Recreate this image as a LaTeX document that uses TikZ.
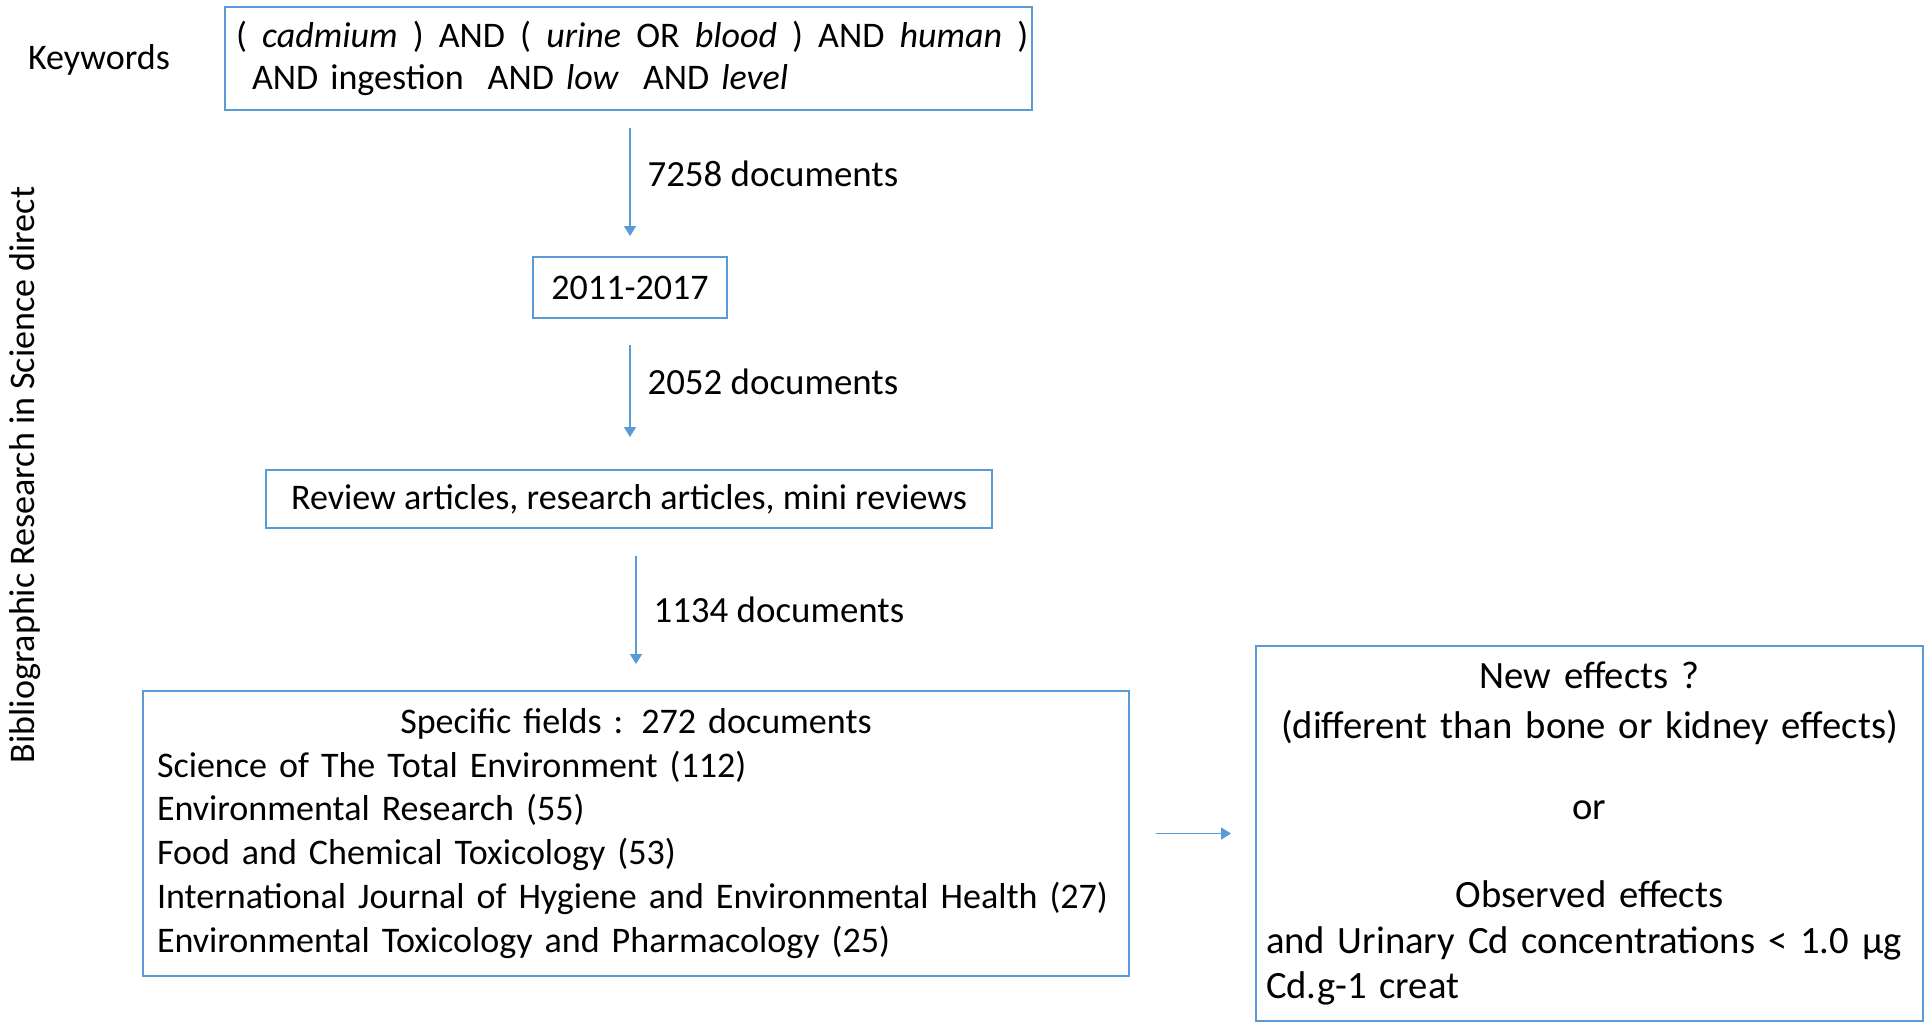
\documentclass[tikz,border=0pt]{standalone}
\usepackage{fontspec}
\setmainfont{Carlito}
\usetikzlibrary{arrows.meta}
\setlength\parindent{0pt}
\definecolor{boxline}{HTML}{5B9BD5}
\tikzset{box/.style={black,draw=boxline,line width=1.1pt,rectangle,font=\fontsize{20.5}{24.5}\selectfont}}
\tikzset{plain/.style={black,font=\fontsize{20.5}{24}\selectfont}}
\tikzset{count/.style={black,font=\fontsize{21}{24}\selectfont,right=0.22cm}}
\tikzset{flow/.style={draw=boxline,line width=0.8pt,-{Triangle[width=0.24cm,length=0.2cm]}}}

\begin{document}
\begin{tikzpicture}
\useasboundingbox (0,0) rectangle (38.5,-20.48);

\node[plain] (keywords) at (1.98,-1.2) {Keywords};
\node[plain,rotate=90] (biblio) at (0.5,-9.5) {Bibliographic Research in Science direct};

\node[box,minimum width=16.14cm,minimum height=2.06cm,text width=15.7cm,inner xsep=0.22cm,align=left,
      font=\fontsize{20.5}{24}\selectfont] (query) at (12.57,-1.17)
  {{\spaceskip=0.42em\mbox{( \textit{cadmium} ) AND ( \textit{urine} OR \textit{blood} ) AND \textit{human} )}}\\
   \hspace*{0.32cm}AND ingestion~ AND \textit{low}~ AND \textit{level}};
\node[box,minimum width=3.88cm,minimum height=1.22cm] (years) at (12.6,-5.75) {2011-2017};
\node[box,minimum width=14.52cm,minimum height=1.16cm] (types) at (12.58,-9.98) {Review articles, research articles, mini reviews};
\node[box,minimum width=19.72cm,minimum height=5.7cm,text width=19.16cm,inner xsep=0.28cm,align=left,
      font=\fontsize{20.5}{25}\selectfont] (fields) at (12.72,-16.67)
  {{\centering Specific fields : 272 documents\par}
   Science of The Total Environment (112)\\
   Environmental Research (55)\\
   Food and Chemical Toxicology (53)\\
   International Journal of Hygiene and Environmental Health (27)\\
   Environmental Toxicology and Pharmacology (25)};
\node[box,minimum width=13.34cm,minimum height=7.5cm,text width=12.94cm,inner xsep=0.2cm,align=left,
      font=\fontsize{22}{26}\selectfont] (effects) at (31.79,-16.67)
  {{\centering New effects ?\\[0.08cm]
   (different than bone or kidney effects)\\[0.72cm]
   or\\[0.84cm]
   Observed effects\par}
   and Urinary Cd concentrations < 1.0 µg\\
   Cd.g-1 creat};

\draw[flow,shorten <=0.34cm,shorten >=0.4cm] (query.south -| years.north) -- (years.north)
  node[count,pos=0.43] (n7258) {7258 documents};
\draw[flow,shorten <=0.52cm,shorten >=0.64cm] (years.south) -- (types.north -| years.south)
  node[count,pos=0.42] (n2052) {2052 documents};
\draw[flow,shorten <=0.54cm,shorten >=0.52cm] (types.south -| fields.north) -- (fields.north)
  node[count,pos=0.5] (n1134) {1134 documents};
\draw[flow,shorten <=0.52cm,shorten >=0.48cm] (fields.east) -- (fields.east -| effects.west);
\end{tikzpicture}
\end{document}
